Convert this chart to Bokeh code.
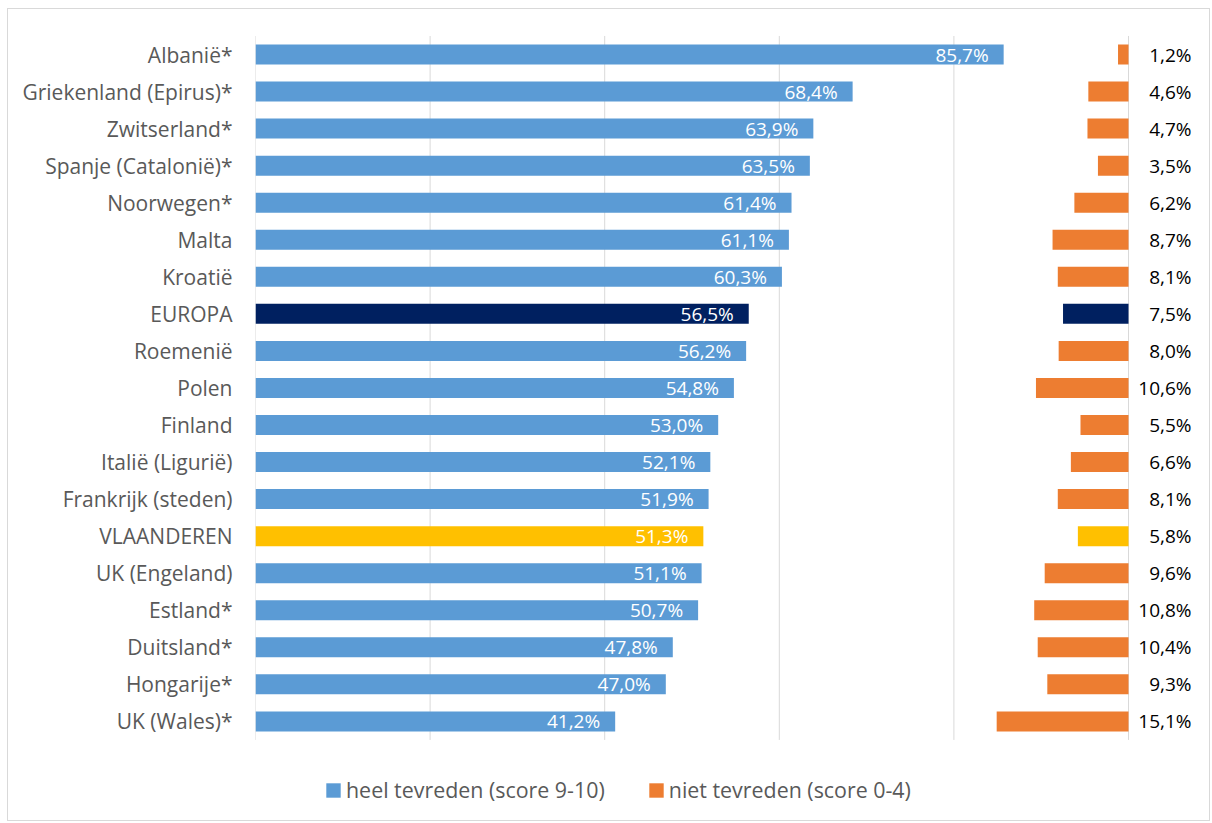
from bokeh.plotting import figure
from bokeh.models import (ColumnDataSource, Range1d, FixedTicker, Legend, LegendItem)
from bokeh.embed import file_html
from bokeh.resources import INLINE
from bokeh.core.properties import value

countries = ["Albanië*", "Griekenland (Epirus)*", "Zwitserland*", "Spanje (Catalonië)*",
             "Noorwegen*", "Malta", "Kroatië", "EUROPA", "Roemenië", "Polen", "Finland",
             "Italië (Ligurië)", "Frankrijk (steden)", "VLAANDEREN", "UK (Engeland)",
             "Estland*", "Duitsland*", "Hongarije*", "UK (Wales)*"]
heel_tevreden = [85.7, 68.4, 63.9, 63.5, 61.4, 61.1, 60.3, 56.5, 56.2, 54.8, 53.0,
                 52.1, 51.9, 51.3, 51.1, 50.7, 47.8, 47.0, 41.2]
niet_tevreden = [1.2, 4.6, 4.7, 3.5, 6.2, 8.7, 8.1, 7.5, 8.0, 10.6, 5.5,
                 6.6, 8.1, 5.8, 9.6, 10.8, 10.4, 9.3, 15.1]
grid_ticks = [0, 20, 40, 60, 80, 100]
legend_labels = ["heel tevreden (score 9-10)", "niet tevreden (score 0-4)"]

BLUE, ORANGE, NAVY, YELLOW = "#5B9BD5", "#ED7D31", "#002060", "#FFC000"
special = {"EUROPA": NAVY, "VLAANDEREN": YELLOW}

def fmt(v):
    return f"{v:.1f}".replace(".", ",") + "%"

n = len(countries)
pos = [n - 1 - i for i in range(n)]  # top row highest

src = ColumnDataSource(dict(
    pos=pos,
    heel=heel_tevreden,
    niet=niet_tevreden,
    niet_left=[100 - v for v in niet_tevreden],
    niet_right=[100] * n,
    heel_lab=[fmt(v) for v in heel_tevreden],
    niet_lab=[fmt(v) for v in niet_tevreden],
    c_heel=[special.get(c, BLUE) for c in countries],
    c_niet=[special.get(c, ORANGE) for c in countries],
))

# layout (pixels)
W, H = 1203, 813
frame_left = 247
px_x = 8.73          # px per percent
px_row = 37.05       # px per category row
top_center = 45      # px from top to centre of first row
y_top = (n - 1) + top_center / px_row
y_bottom = y_top - H / px_row

p = figure(width=W, height=H, output_backend="svg", toolbar_location=None,
           x_range=Range1d(0, (W - frame_left - 4) / px_x),
           y_range=Range1d(y_bottom, y_top),
           min_border_left=frame_left, min_border_top=0, min_border_bottom=0,
           min_border_right=4)
p.styles = {"border": "1px solid #d9d9d9", "margin-left": "7px", "margin-top": "8px"}
p.outline_line_color = None
p.background_fill_color = "white"
p.border_fill_color = "white"
p.xgrid.visible = False
p.ygrid.visible = False
p.xaxis.visible = False

font = "Open Sans"

# vertical gridlines spanning the category band area
p.segment(x0=grid_ticks, x1=grid_ticks, y0=[-0.5] * len(grid_ticks),
          y1=[n - 0.5] * len(grid_ticks), line_color="#d9d9d9", line_width=1)

r1 = p.hbar(y="pos", left=0, right="heel", height=0.54, source=src,
            fill_color="c_heel", line_color=None)
r2 = p.hbar(y="pos", left="niet_left", right="niet_right", height=0.54, source=src,
            fill_color="c_niet", line_color=None)

p.text(x="heel", y="pos", text="heel_lab", source=src, x_offset=-15,
       text_align="right", text_baseline="middle", text_color="white",
       text_font=value(font), text_font_size="19px")
p.text(x="niet_right", y="pos", text="niet_lab", source=src, x_offset=63,
       text_align="right", text_baseline="middle", text_color="#000000",
       text_font=value(font), text_font_size="19px")

ya = p.yaxis[0]
ya.ticker = FixedTicker(ticks=pos)
ya.major_label_overrides = {pv: c for pv, c in zip(pos, countries)}
ya.axis_line_color = None
ya.major_tick_line_color = None
ya.minor_tick_line_color = None
ya.major_tick_out = 0
ya.major_tick_in = 0
ya.major_label_standoff = 23
ya.major_label_text_font = font
ya.major_label_text_font_size = "21px"
ya.major_label_text_color = "#595959"

legend = Legend(items=[
    LegendItem(label=legend_labels[0], renderers=[r1], index=0),
    LegendItem(label=legend_labels[1], renderers=[r2], index=0),
], orientation="horizontal", location=(69, 18))
legend.padding = 0
legend.margin = 0
legend.border_line_color = None
legend.background_fill_alpha = 0
legend.glyph_width = 18
legend.glyph_height = 18
legend.label_standoff = 4
legend.spacing = 42
legend.label_text_font = font
legend.label_text_font_size = "21.4px"
legend.label_text_color = "#595959"
p.add_layout(legend)

open("out.html", "w").write(file_html(p, INLINE))
